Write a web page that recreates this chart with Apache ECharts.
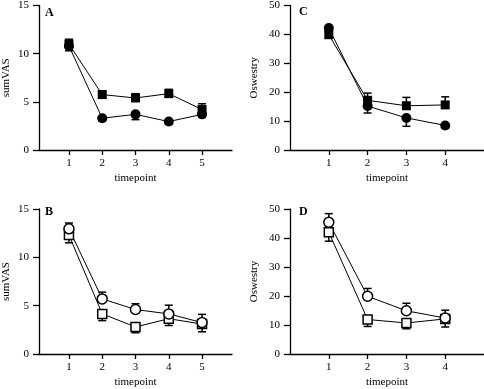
<!DOCTYPE html>
<html>
<head>
<meta charset="utf-8">
<script src="https://cdn.jsdelivr.net/npm/echarts@6/dist/echarts.min.js"></script>
<style>
  html, body { margin: 0; padding: 0; background: #fff; }
  #main { width: 484px; height: 389px; }
</style>
</head>
<body>
<div id="main"></div>
<script>
// timepoints and tick values
const timepointsVAS = [1, 2, 3, 4, 5];
const timepointsOsw = [1, 2, 3, 4];
const yTicksVAS = [0, 5, 10, 15];
const yTicksOsw = [0, 10, 20, 30, 40, 50];

// panel A (sumVAS, filled markers)
const aSquare = [11.0, 5.75, 5.4, 5.85, 4.2];
const aSquareErr = [0.5, 0.4, 0.45, 0.45, 0.6];
const aCircle = [10.8, 3.3, 3.7, 2.95, 3.7];
const aCircleErr = [0.5, 0.3, 0.55, 0.3, 0.3];

// panel C (Oswestry, filled markers)
const cSquare = [39.9, 17.2, 15.3, 15.6];
const cSquareErr = [1.0, 2.5, 2.9, 2.8];
const cCircle = [42.2, 15.2, 11.1, 8.5];
const cCircleErr = [1.0, 2.4, 2.9, 1.0];

// panel B (sumVAS, open markers)
const bCircle = [12.95, 5.7, 4.6, 4.15, 3.25];
const bCircleErr = [0.6, 0.7, 0.6, 0.9, 0.85];
const bSquare = [12.3, 4.15, 2.8, 3.65, 3.1];
const bSquareErr = [0.8, 0.7, 0.6, 0.7, 0.8];

// panel D (Oswestry, open markers)
const dCircle = [45.4, 19.9, 14.9, 12.4];
const dCircleErr = [3.0, 2.7, 2.6, 2.7];
const dSquare = [42.0, 11.9, 10.7, 12.1];
const dSquareErr = [3.1, 2.4, 2.0, 2.8];

const FONT = '"Liberation Serif", "Times New Roman", serif';

let chart = echarts.init(document.getElementById("main"));

function xAxisOf(grid, ticks, min, max) {
  return {
    type: "value", gridIndex: grid, min: min, max: max,
    name: "timepoint", nameLocation: "middle", nameGap: 23,
    nameTextStyle: { fontFamily: FONT, fontSize: 11, color: "#000" },
    axisLine: { lineStyle: { color: "#000", width: 1.3 } },
    axisTick: { customValues: ticks, length: 5, lineStyle: { color: "#000", width: 1.3 } },
    axisLabel: { customValues: ticks, margin: 8, fontFamily: FONT, fontSize: 11, color: "#000" },
    splitLine: { show: false }
  };
}

function yAxisOf(grid, ticks, name, gap) {
  return {
    type: "value", gridIndex: grid, min: ticks[0], max: ticks[ticks.length - 1],
    name: name, nameLocation: "middle", nameGap: gap,
    nameTextStyle: { fontFamily: FONT, fontSize: 11, color: "#000" },
    axisLine: { show: true, lineStyle: { color: "#000", width: 1.3 } },
    axisTick: { show: true, customValues: ticks, length: 6, lineStyle: { color: "#000", width: 1.3 } },
    axisLabel: { customValues: ticks, margin: 10, fontFamily: FONT, fontSize: 11, color: "#000" },
    splitLine: { show: false }
  };
}

function lineSeries(idx, xs, ys, symbol, open) {
  return {
    type: "line", xAxisIndex: idx, yAxisIndex: idx, z: 3,
    data: xs.map((x, i) => [x, ys[i]]),
    symbol: symbol,
    symbolSize: symbol === "circle" ? 10 : 9,
    lineStyle: { color: "#000", width: 1 },
    itemStyle: open
      ? { color: "#fff", borderColor: "#000", borderWidth: 1.5 }
      : { color: "#000" },
    emphasis: { disabled: true }
  };
}

// one-sided error bars: dir = 1 up, -1 down
function errSeries(idx, xs, ys, errs, dir) {
  return {
    type: "custom", xAxisIndex: idx, yAxisIndex: idx, z: 2,
    data: xs.map((x, i) => [x, ys[i], ys[i] + dir * errs[i]]),
    renderItem: function(params, api) {
      let p0 = api.coord([api.value(0), api.value(1)]);
      let p1 = api.coord([api.value(0), api.value(2)]);
      let w = 4;
      let st = { stroke: "#000", lineWidth: 1.5 };
      return {
        type: "group",
        children: [
          { type: "line", shape: { x1: p0[0], y1: p0[1], x2: p1[0], y2: p1[1] }, style: st },
          { type: "line", shape: { x1: p1[0] - w, y1: p1[1], x2: p1[0] + w, y2: p1[1] }, style: st }
        ]
      };
    }
  };
}

let option = {
  animation: false,
  backgroundColor: "#fff",
  grid: [
    { left: 37, top: 5, width: 195, height: 145 },
    { left: 290, top: 5, width: 194, height: 145 },
    { left: 37, top: 209, width: 195, height: 146 },
    { left: 290, top: 209, width: 194, height: 146 }
  ],
  xAxis: [
    xAxisOf(0, timepointsVAS, 0.1, 5.9),
    xAxisOf(1, timepointsOsw, 0, 5),
    xAxisOf(2, timepointsVAS, 0.1, 5.9),
    xAxisOf(3, timepointsOsw, 0, 5)
  ],
  yAxis: [
    yAxisOf(0, yTicksVAS, "sumVAS", 27),
    yAxisOf(1, yTicksOsw, "Oswestry", 30),
    yAxisOf(2, yTicksVAS, "sumVAS", 27),
    yAxisOf(3, yTicksOsw, "Oswestry", 30)
  ],
  graphic: [
    { type: "text", left: 45, top: 7, style: { text: "A", font: "bold 12px " + FONT, fill: "#000" } },
    { type: "text", left: 299, top: 6, style: { text: "C", font: "bold 12px " + FONT, fill: "#000" } },
    { type: "text", left: 45, top: 206, style: { text: "B", font: "bold 12px " + FONT, fill: "#000" } },
    { type: "text", left: 299, top: 206, style: { text: "D", font: "bold 12px " + FONT, fill: "#000" } }
  ],
  series: [
    errSeries(0, timepointsVAS, aSquare, aSquareErr, 1),
    errSeries(0, timepointsVAS, aCircle, aCircleErr, -1),
    lineSeries(0, timepointsVAS, aSquare, "rect", false),
    lineSeries(0, timepointsVAS, aCircle, "circle", false),

    errSeries(1, timepointsOsw, cSquare, cSquareErr, 1),
    errSeries(1, timepointsOsw, cCircle, cCircleErr, -1),
    lineSeries(1, timepointsOsw, cSquare, "rect", false),
    lineSeries(1, timepointsOsw, cCircle, "circle", false),

    errSeries(2, timepointsVAS, bCircle, bCircleErr, 1),
    errSeries(2, timepointsVAS, bSquare, bSquareErr, -1),
    lineSeries(2, timepointsVAS, bSquare, "rect", true),
    lineSeries(2, timepointsVAS, bCircle, "circle", true),

    errSeries(3, timepointsOsw, dCircle, dCircleErr, 1),
    errSeries(3, timepointsOsw, dSquare, dSquareErr, -1),
    lineSeries(3, timepointsOsw, dSquare, "rect", true),
    lineSeries(3, timepointsOsw, dCircle, "circle", true)
  ]
};
chart.setOption(option);
</script>
</body>
</html>
